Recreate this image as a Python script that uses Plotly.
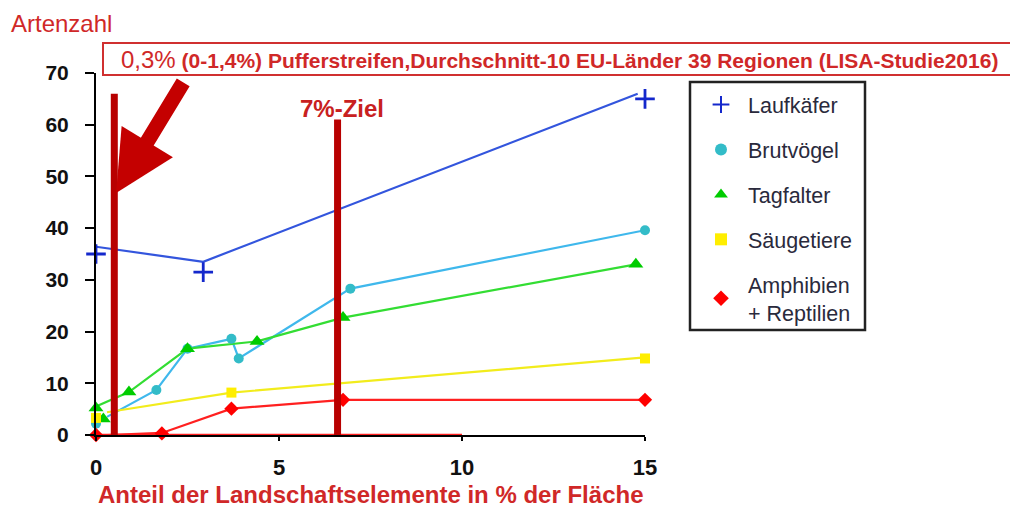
import plotly.graph_objects as go

# ---------------- data ----------------
x_ticks = [0, 5, 10, 15]
y_ticks = [0, 10, 20, 30, 40, 50, 60, 70]

lauf_x = [0, 2.93, 15]
lauf_y = [35, 31.5, 65]
lauf_line_x = [0, 2.93, 14.8]
lauf_line_y = [36.4, 33.5, 66]

brut_x = [0, 1.65, 2.5, 3.7, 3.9, 6.95, 15]
brut_y = [2.2, 8.7, 16.7, 18.6, 14.8, 28.3, 39.6]
brut_line_x = [0.3, 1.65, 2.5, 3.7, 3.9, 6.95, 15]
brut_line_y = [3.5, 8.7, 16.7, 18.6, 14.8, 28.3, 39.6]

tag_x = [0, 0.2, 0.9, 2.5, 4.4, 6.75, 14.75]
tag_y = [5.2, 3.1, 8.3, 16.7, 18.1, 22.7, 33]
tag_line_x = [0, 0.9, 2.5, 4.4, 6.75, 14.75]
tag_line_y = [5.5, 8.3, 16.7, 18.1, 22.7, 33]

saeug_x = [0, 3.7, 15]
saeug_y = [3.3, 8.2, 14.8]
saeug_line_x = [0.3, 3.7, 15]
saeug_line_y = [4.4, 8.2, 15]

amph_x = [0, 1.8, 3.7, 6.75, 15]
amph_y = [0, 0.3, 5.1, 6.8, 6.8]
amph_line_x = [0.3, 1.8, 3.7, 6.75, 15]
amph_line_y = [0, 0.4, 5.1, 6.8, 6.8]
amph_base_x = [0, 10]
amph_base_y = [0, 0]

marker_lines = [0.5, 6.6]      # vertical bars (x position)
marker_tops = [66, 61]

# ---------------- layout helpers ----------------
O = 8                      # page body margin of the html page
W, H = 1018 - O, 509 - O
L, T, PW, PH = 96 - O, 73 - O, 549, 362
R = W - L - PW
B = H - T - PH
FONT = "Liberation Sans, Arial, sans-serif"
RED_TXT = "#d02828"
DARK_RED = "#b80000"


def px_x(px):
    return (px - O - L) / PW


def px_y(py):
    return (T + PH - (py - O)) / PH


fig = go.Figure()

series = [
    ("Laufkäfer", lauf_x, lauf_y, lauf_line_x, lauf_line_y, "#3355dd", "#1428cc",
     dict(symbol="cross-thin", size=14, line=dict(width=2.8, color="#1428cc"))),
    ("Brutvögel", brut_x, brut_y, brut_line_x, brut_line_y, "#3fb8ec", "#33bcc8",
     dict(symbol="circle", size=10)),
    ("Tagfalter", tag_x, tag_y, tag_line_x, tag_line_y, "#33dd33", "#00cc00",
     dict(symbol="triangle-up", size=13)),
    ("Säugetiere", saeug_x, saeug_y, saeug_line_x, saeug_line_y, "#f2ec1c", "#ffee00",
     dict(symbol="square", size=10)),
    ("Amphibien<br>+ Reptilien", amph_x, amph_y, amph_line_x, amph_line_y, "#ff2020", "#ff0000",
     dict(symbol="diamond", size=11)),
]

for i, (name, mx, my, lx, ly, lc, mc, mk) in enumerate(series):
    fig.add_trace(go.Scatter(x=lx, y=ly, mode="lines", line=dict(color=lc, width=2.2),
                             showlegend=False, cliponaxis=False, hoverinfo="skip"))
    if name.startswith("Amphibien"):
        fig.add_trace(go.Scatter(x=amph_base_x, y=amph_base_y, mode="lines",
                                 line=dict(color=lc, width=2.5), showlegend=False,
                                 cliponaxis=False, hoverinfo="skip"))

for i, (name, mx, my, lx, ly, lc, mc, mk) in enumerate(series):
    m = dict(color=mc)
    m.update(mk)
    fig.add_trace(go.Scatter(x=mx, y=my, mode="markers", name=name, marker=m,
                             legendgroup=f"g{i}", cliponaxis=False))

shapes = []
for xv, top in zip(marker_lines, marker_tops):
    shapes.append(dict(type="line", xref="x", yref="y", x0=xv, x1=xv, y0=-1, y1=top,
                       line=dict(color=DARK_RED, width=7), layer="above"))
# header box
shapes.append(dict(type="rect", xref="paper", yref="paper",
                   x0=px_x(103), x1=px_x(1013), y0=px_y(75), y1=px_y(43),
                   line=dict(color="#d03030", width=2), fillcolor="white"))
# legend box
shapes.append(dict(type="rect", xref="paper", yref="paper",
                   x0=px_x(690), x1=px_x(865), y0=px_y(330), y1=px_y(82),
                   line=dict(color="#222222", width=2.5)))

annotations = [
    dict(text="Artenzahl", xref="paper", yref="paper", x=px_x(9), y=px_y(24),
         xanchor="left", yanchor="middle", showarrow=False,
         font=dict(family=FONT, size=24, color=RED_TXT)),
    dict(text="<span style='font-size:24px'>0,3%</span> <b>(0-1,4%) Pufferstreifen,Durchschnitt-10 EU-Länder 39 Regionen (LISA-Studie2016)</b>",
         xref="paper", yref="paper", x=px_x(559), y=px_y(59),
         xanchor="center", yanchor="middle", showarrow=False,
         font=dict(family=FONT, size=21, color=RED_TXT)),
    dict(text="<b>7%-Ziel</b>", xref="paper", yref="paper", x=px_x(342), y=px_y(108),
         xanchor="center", yanchor="middle", showarrow=False,
         font=dict(family=FONT, size=24, color="#c82020")),
    dict(text="<b>Anteil der Landschaftselemente in % der Fläche</b>", xref="paper", yref="paper",
         x=px_x(370), y=px_y(494), xanchor="center", yanchor="middle", showarrow=False,
         font=dict(family=FONT, size=24, color=RED_TXT)),
    # arrow
    dict(text="", x=0.55, y=46.8, xref="x", yref="y", ax=68, ay=-112,
         showarrow=True, arrowhead=2, arrowsize=0.8, arrowwidth=15,
         arrowcolor="#c40000", standoff=0, startstandoff=0),
]

fig.update_layout(
    width=W, height=H,
    margin=dict(l=L, r=R, t=T, b=B, autoexpand=False),
    paper_bgcolor="white", plot_bgcolor="white",
    shapes=shapes, annotations=annotations,
    showlegend=True,
    legend=dict(x=px_x(694), y=px_y(84), xanchor="left", yanchor="top",
                font=dict(family=FONT, size=21.5, color="#2a2a3c"),
                bgcolor="rgba(0,0,0,0)", borderwidth=0, itemwidth=44,
                tracegroupgap=14, traceorder="grouped", itemsizing="constant"),
    font=dict(family=FONT),
)

fig.update_xaxes(range=[0, 15], tickvals=x_ticks, showgrid=False, zeroline=False,
                 showline=True, linecolor="black", linewidth=2,
                 ticks="outside", ticklen=4, tickcolor="black", tickwidth=2,
                 ticklabelstandoff=8, automargin=False,
                 tickfont=dict(family=FONT, size=22, color="#111111", weight="bold"))
fig.update_yaxes(range=[0, 70], tickvals=y_ticks, showgrid=False, zeroline=False,
                 showline=True, linecolor="black", linewidth=2,
                 ticks="outside", ticklen=9, tickcolor="black", tickwidth=2,
                 ticklabelstandoff=12, automargin=False,
                 tickfont=dict(family=FONT, size=21, color="#111111", weight="bold"))

fig.write_html("out.html")
